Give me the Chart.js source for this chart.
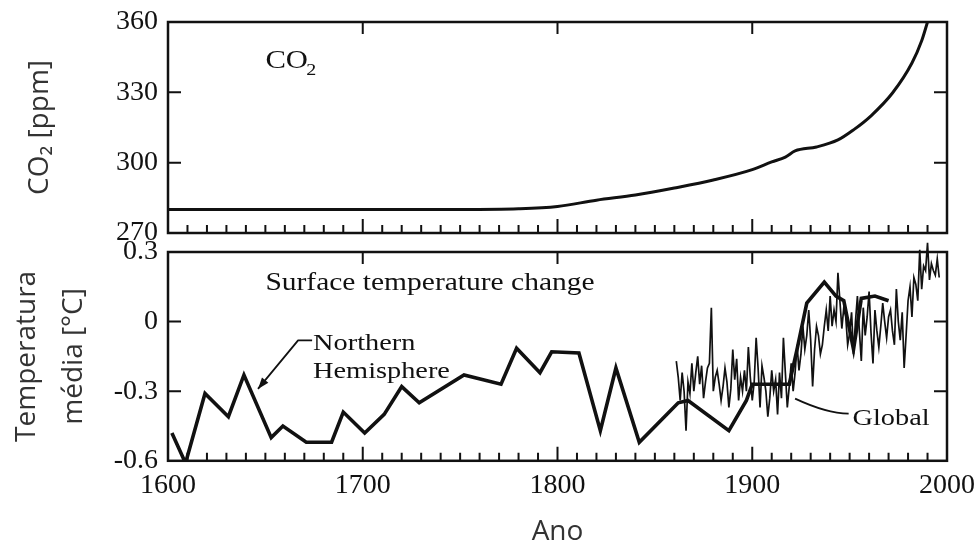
<!DOCTYPE html>
<html>
<head>
<meta charset="utf-8">
<script src="https://cdn.jsdelivr.net/npm/chart.js@4.4.1/dist/chart.umd.min.js"></script>
<style>
  body { margin: 0; background: #fff; }
  #wrap { position: relative; width: 976px; height: 555px; }
  #co2Box { position: absolute; left: 0; top: 0; width: 976px; height: 250px; }
  #tempBox { position: absolute; left: 0; top: 228px; width: 976px; height: 327px; }
</style>
</head>
<body>
<div id="wrap">
  <div id="co2Box"><canvas id="co2Chart"></canvas></div>
  <div id="tempBox"><canvas id="tempChart"></canvas></div>
</div>
<script>
// --- data ---
const xTicks = [1600, 1700, 1800, 1900, 2000];
const co2Ticks = [270, 300, 330, 360];
const tempTicks = [-0.6, -0.3, 0, 0.3];

const co2Years  = [1600, 1650, 1700, 1750, 1780, 1800, 1820, 1840, 1860, 1880, 1900, 1910, 1917, 1922, 1933, 1944, 1952, 1961, 1972, 1982, 1987, 1990];
const co2Values = [280, 280, 280, 280, 280.3, 281.3, 284, 286.2, 289.2, 292.6, 297, 300.3, 302.4, 305, 306.7, 309.7, 314, 320, 329.7, 342.5, 352, 360];

const nhYears  = [1602, 1609, 1619, 1631, 1639, 1653, 1659, 1671, 1684, 1690, 1701, 1711, 1720, 1729, 1752, 1771, 1779, 1791, 1797, 1811, 1822, 1830, 1842, 1862, 1867, 1888, 1897, 1900, 1919, 1923, 1928, 1937, 1943, 1947, 1952, 1956, 1963, 1970];
const nhValues = [-0.48, -0.61, -0.31, -0.41, -0.23, -0.50, -0.45, -0.52, -0.52, -0.39, -0.48, -0.40, -0.28, -0.35, -0.23, -0.27, -0.115, -0.22, -0.13, -0.135, -0.47, -0.20, -0.52, -0.35, -0.34, -0.47, -0.34, -0.27, -0.27, -0.12, 0.08, 0.17, 0.11, 0.09, -0.12, 0.10, 0.11, 0.09];

const globalYears = [
    1861, 1862, 1863, 1864, 1865, 1866, 1867, 1868, 1869, 1870,
    1871, 1872, 1873, 1874, 1875, 1876, 1877, 1878, 1879, 1880,
    1881, 1882, 1883, 1884, 1885, 1886, 1887, 1888, 1889, 1890,
    1891, 1892, 1893, 1894, 1895, 1896, 1897, 1898, 1899, 1900,
    1901, 1902, 1903, 1904, 1905, 1906, 1907, 1908, 1909, 1910,
    1911, 1912, 1913, 1914, 1915, 1916, 1917, 1918, 1919, 1920,
    1921, 1922, 1923, 1924, 1925, 1926, 1927, 1928, 1929, 1930,
    1931, 1932, 1933, 1934, 1935, 1936, 1937, 1938, 1939, 1940,
    1941, 1942, 1943, 1944, 1945, 1946, 1947, 1948, 1949, 1950,
    1951, 1952, 1953, 1954, 1955, 1956, 1957, 1958, 1959, 1960,
    1961, 1962, 1963, 1964, 1965, 1966, 1967, 1968, 1969, 1970,
    1971, 1972, 1973, 1974, 1975, 1976, 1977, 1978, 1979, 1980,
    1981, 1982, 1983, 1984, 1985, 1986, 1987, 1988, 1989, 1990,
    1991, 1992, 1993, 1994, 1995, 1996
];
const globalValues = [
    -0.17, -0.24, -0.34, -0.22, -0.30, -0.47, -0.26, -0.31, -0.18, -0.30,
    -0.22, -0.15, -0.27, -0.19, -0.33, -0.26, -0.20, -0.18, 0.06, -0.30,
    -0.24, -0.21, -0.27, -0.34, -0.28, -0.20, -0.26, -0.37, -0.29, -0.12,
    -0.25, -0.16, -0.34, -0.24, -0.30, -0.21, -0.30, -0.11, -0.24, -0.34,
    -0.26, -0.07, -0.20, -0.37, -0.19, -0.24, -0.30, -0.41, -0.33, -0.21,
    -0.30, -0.25, -0.40, -0.22, -0.33, -0.07, -0.22, -0.37, -0.28, -0.18,
    -0.30, -0.22, -0.10, -0.21, -0.14, -0.02, -0.12, -0.06, 0.05, -0.08,
    -0.28, -0.12, -0.02, -0.06, -0.14, -0.10, -0.02, 0.05, -0.04, 0.11,
    -0.02, 0.05, 0.00, 0.21, 0.09, -0.03, 0.06, 0.02, -0.10, -0.05,
    0.04, -0.14, 0.00, 0.11, -0.04, -0.17, 0.06, -0.06, 0.02, 0.13,
    -0.05, -0.18, 0.05, -0.04, -0.11, -0.02, 0.08, 0.00, -0.07, 0.02,
    0.05, -0.04, -0.10, 0.14, 0.00, -0.08, 0.04, -0.20, -0.06, 0.09,
    0.15, 0.02, 0.19, 0.16, 0.09, 0.31, 0.14, 0.24, 0.22, 0.34,
    0.18, 0.25, 0.22, 0.20, 0.27, 0.19
];

const ink = '#111';
const serif = "'Liberation Serif', 'Times New Roman', serif";
const sans = "'Open Sans', 'Noto Sans', sans-serif";

function toPoints(xs, ys) {
    return xs.map((x, i) => ({ x: x, y: ys[i] }));
}

// draws a piece of serif text a little wider, like the scanned figure
function noteText(ctx, text, px, py, size) {
    ctx.save();
    ctx.font = size + 'px ' + serif;
    ctx.fillStyle = ink;
    ctx.translate(px, py);
    ctx.scale(1.18, 1);
    ctx.fillText(text, 0, 0);
    ctx.restore();
}

// box round the plot and the inward tick marks
const framePlugin = {
    id: 'frame',
    afterDatasetsDraw(chart, args, opts) {
        const { ctx, chartArea: a } = chart;
        const x = chart.scales.x, y = chart.scales.y;
        ctx.save();
        ctx.strokeStyle = ink;
        ctx.lineWidth = 2.5;
        ctx.strokeRect(a.left, a.top, a.right - a.left, a.bottom - a.top);
        ctx.lineWidth = 2;
        ctx.beginPath();
        for (let yr = 1610; yr < 2000; yr += 10) {
            const px = x.getPixelForValue(yr);
            const len = yr % 100 === 0 ? 14 : 8;
            ctx.moveTo(px, a.bottom);
            ctx.lineTo(px, a.bottom - len);
        }
        xTicks.slice(1, -1).forEach(yr => {
            const px = x.getPixelForValue(yr);
            ctx.moveTo(px, a.top);
            ctx.lineTo(px, a.top + 12);
        });
        opts.yTicks.slice(1, -1).forEach(v => {
            const py = y.getPixelForValue(v);
            ctx.moveTo(a.left, py);
            ctx.lineTo(a.left + 13, py);
            ctx.moveTo(a.right, py);
            ctx.lineTo(a.right - 13, py);
        });
        ctx.stroke();
        ctx.restore();
    }
};

function xScale(showLabels) {
    return {
        type: 'linear',
        min: 1600,
        max: 2000,
        afterBuildTicks: s => { s.ticks = xTicks.map(v => ({ value: v })); },
        // the end labels may stick out past the frame, as in the figure
        afterFit: s => { s.paddingLeft = 0; s.paddingRight = 0; },
        grid: { display: false, drawTicks: false },
        border: { display: false },
        ticks: {
            display: showLabels,
            autoSkip: false,
            maxRotation: 0,
            padding: 8,
            color: ink,
            font: { family: serif, size: 28 },
            callback: v => String(v)
        },
        title: {
            display: showLabels,
            text: 'Ano',
            color: '#333',
            padding: { top: 5, bottom: 0 },
            font: { family: sans, size: 28 }
        }
    };
}

// y tick labels: small line height so they do not push the plot edges
function yTickOpts(cb) {
    const t = { padding: 10, color: ink, font: { family: serif, size: 28, lineHeight: 0.5 } };
    if (cb) t.callback = cb;
    return t;
}

Chart.defaults.animation = false;

new Chart(document.getElementById('co2Chart'), {
    type: 'line',
    data: {
        datasets: [{
            label: 'CO2',
            data: toPoints(co2Years, co2Values),
            borderColor: ink,
            borderWidth: 3,
            pointRadius: 0,
            cubicInterpolationMode: 'monotone'
        }]
    },
    options: {
        responsive: true,
        maintainAspectRatio: false,
        events: [],
        layout: { autoPadding: false, padding: { top: 22, right: 29, bottom: 17, left: 0 } },
        scales: {
            x: xScale(false),
            y: {
                min: 270,
                max: 360,
                afterBuildTicks: s => { s.ticks = co2Ticks.map(v => ({ value: v })); },
                afterFit: s => { s.width = 168; },
                grid: { display: false, drawTicks: false },
                border: { display: false },
                ticks: yTickOpts(),
                title: {
                    display: true,
                    text: 'CO₂ [ppm]',
                    color: '#333',
                    padding: { top: 23, bottom: 0 },
                    font: { family: sans, size: 28 }
                }
            }
        },
        plugins: {
            legend: { display: false },
            tooltip: { enabled: false },
            frame: { yTicks: co2Ticks }
        }
    },
    plugins: [framePlugin, {
        id: 'co2Notes',
        afterDatasetsDraw(chart) {
            const { ctx, scales: { x, y } } = chart;
            noteText(ctx, 'CO', x.getPixelForValue(1650), y.getPixelForValue(340.4), 26);
            noteText(ctx, '2', x.getPixelForValue(1671), y.getPixelForValue(337.4), 17);
        }
    }]
});

new Chart(document.getElementById('tempChart'), {
    type: 'line',
    data: {
        datasets: [{
            label: 'Northern Hemisphere',
            data: toPoints(nhYears, nhValues),
            borderColor: ink,
            borderWidth: 3.6,
            pointRadius: 0,
            tension: 0
        }, {
            label: 'Global',
            data: toPoints(globalYears, globalValues),
            borderColor: ink,
            borderWidth: 1.7,
            pointRadius: 0,
            tension: 0,
            clip: 14
        }]
    },
    options: {
        responsive: true,
        maintainAspectRatio: false,
        events: [],
        layout: { autoPadding: false, padding: { top: 24, right: 29, bottom: 6, left: 0 } },
        scales: {
            x: xScale(true),
            y: {
                min: -0.6,
                max: 0.3,
                afterBuildTicks: s => { s.ticks = tempTicks.map(v => ({ value: v })); },
                afterFit: s => { s.width = 168; },
                grid: { display: false, drawTicks: false },
                border: { display: false },
                ticks: yTickOpts(v => (v === 0 ? '0' : v.toFixed(1))),
                title: {
                    display: true,
                    text: ['Temperatura', 'média [°C]'],
                    color: '#333',
                    padding: { top: 3, bottom: 0 },
                    font: { family: sans, size: 28, lineHeight: 1.7 }
                }
            }
        },
        plugins: {
            legend: { display: false },
            tooltip: { enabled: false },
            frame: { yTicks: tempTicks }
        }
    },
    plugins: [framePlugin, {
        id: 'tempNotes',
        afterDatasetsDraw(chart) {
            const { ctx, scales: { x, y } } = chart;
            const px = v => x.getPixelForValue(v);
            const py = v => y.getPixelForValue(v);

            noteText(ctx, 'Surface temperature change', px(1650), py(0.135), 25);
            noteText(ctx, 'Northern', px(1674.5), py(-0.124), 24);
            noteText(ctx, 'Hemisphere', px(1674.5), py(-0.241), 24);
            noteText(ctx, 'Global', px(1951.5), py(-0.444), 24);

            ctx.save();
            ctx.strokeStyle = ink;
            ctx.fillStyle = ink;
            ctx.lineWidth = 1.8;
            ctx.lineJoin = 'round';

            // arrow to the Northern Hemisphere curve
            const ax0 = px(1674), ay0 = py(-0.081);
            const ax1 = px(1666.8), ay1 = py(-0.081);
            const ax2 = px(1646.2), ay2 = py(-0.29);
            ctx.beginPath();
            ctx.moveTo(ax0, ay0);
            ctx.lineTo(ax1, ay1);
            ctx.lineTo(ax2, ay2);
            ctx.stroke();
            const ang = Math.atan2(ay2 - ay1, ax2 - ax1);
            ctx.beginPath();
            ctx.moveTo(ax2, ay2);
            ctx.lineTo(ax2 - 12 * Math.cos(ang - 0.35), ay2 - 12 * Math.sin(ang - 0.35));
            ctx.lineTo(ax2 - 12 * Math.cos(ang + 0.35), ay2 - 12 * Math.sin(ang + 0.35));
            ctx.closePath();
            ctx.fill();

            // leader line to the Global label
            ctx.beginPath();
            ctx.moveTo(px(1922), py(-0.332));
            ctx.quadraticCurveTo(px(1938), py(-0.395), px(1949.5), py(-0.397));
            ctx.stroke();
            ctx.restore();
        }
    }]
});
</script>
</body>
</html>
